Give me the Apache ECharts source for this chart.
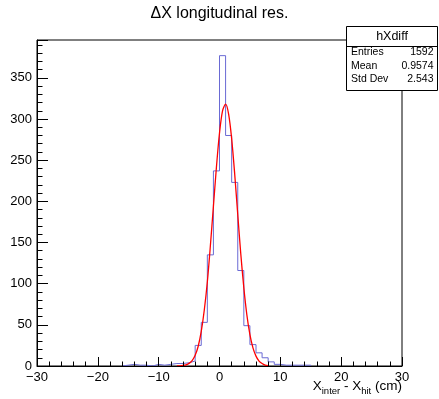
<!DOCTYPE html>
<html>
<head>
<meta charset="utf-8">
<script src="https://cdn.jsdelivr.net/npm/echarts@6/dist/echarts.min.js"></script>
<style>
html,body{margin:0;padding:0;background:#fff;}
#chart{width:439px;height:399px;}
</style>
</head>
<body>
<div id="chart"></div>
<script>
// Histogram: bins of width 1 starting at binLow
const binLow = -16;
const binWidth = 1;
const counts = [1, 2, 1, 1, 0, 2, 1, 2, 3, 3, 4, 6, 25, 53, 135, 237, 377, 280, 223, 116, 49, 26, 16, 10, 5, 2, 1, 1, 1, 1, 1];
// Gaussian fit curve
const fitX = [-7, -6.5, -6, -5.5, -5, -4.5, -4, -3.5, -3, -2.5, -2, -1.5, -1, -0.5, 0, 0.5, 1, 1.5, 2, 2.5, 3, 3.5, 4, 4.5, 5, 5.5, 6, 6.5, 7, 7.5, 8];
const fitY = [0.1, 0.2, 0.6, 1.4, 3.2, 6.6, 13, 24, 42, 68, 102, 146, 194, 242, 283, 310, 318, 306, 276, 233, 184, 136, 95, 62, 38, 22, 12, 6, 3, 1.2, 0.5];
const xTicks = [-30, -20, -10, 0, 10, 20, 30];
const yTicks = [0, 50, 100, 150, 200, 250, 300, 350];
const statsTitle = 'hXdiff';
const statsRows = [['Entries', '1592'], ['Mean', '0.9574'], ['Std Dev', '2.543']];

const histPts = [[binLow, 0]];
counts.forEach((c, i) => histPts.push([binLow + (i + 1) * binWidth, c]));
histPts.push([binLow + counts.length * binWidth, 0]);
const fitPts = fitX.map((x, i) => [x, fitY[i]]);

const FONT = '"Liberation Sans", Arial, Helvetica, sans-serif';
const chart = echarts.init(document.getElementById('chart'), null, {renderer: 'canvas'});

const statsGraphics = [
  {type: 'rect', z: 100, shape: {x: 346.5, y: 26.5, width: 91, height: 64}, style: {fill: '#fff', stroke: '#000', lineWidth: 1}},
  {type: 'line', z: 101, shape: {x1: 346.5, y1: 46.5, x2: 437.5, y2: 46.5}, style: {stroke: '#000', lineWidth: 1}},
  {type: 'text', z: 101, style: {x: 392, y: 36.5, text: statsTitle, align: 'center', verticalAlign: 'middle', font: '12.5px ' + FONT, fill: '#000'}}
];
statsRows.forEach((r, i) => {
  const y = 52.5 + i * 13.5;
  statsGraphics.push({type: 'text', z: 101, style: {x: 351, y: y, text: r[0], align: 'left', verticalAlign: 'middle', font: '10.5px ' + FONT, fill: '#000'}});
  statsGraphics.push({type: 'text', z: 101, style: {x: 433.5, y: y, text: r[1], align: 'right', verticalAlign: 'middle', font: '10.5px ' + FONT, fill: '#000'}});
});

chart.setOption({
  animation: false,
  backgroundColor: '#fff',
  grid: {left: 37, right: 37, top: 40, bottom: 33, show: true, borderColor: '#000', borderWidth: 1, backgroundColor: 'transparent'},
  xAxis: {
    type: 'value', min: xTicks[0], max: xTicks[xTicks.length - 1], interval: 10, z: 3,
    axisLine: {show: true, onZero: false, lineStyle: {color: '#000', width: 1}},
    axisTick: {show: true, inside: true, length: 9, lineStyle: {color: '#000'}},
    minorTick: {show: true, splitNumber: 5, length: 4.5, lineStyle: {color: '#000'}},
    splitLine: {show: false},
    axisLabel: {color: '#000', fontSize: 13, fontFamily: FONT, margin: 5,
      formatter: v => String(v).replace('-', '\u2212')}
  },
  yAxis: {
    type: 'value', min: 0, max: 396, interval: 50, z: 3,
    axisLine: {show: true, onZero: false, lineStyle: {color: '#000', width: 1}},
    axisTick: {show: true, inside: true, length: 11, lineStyle: {color: '#000'}},
    minorTick: {show: true, splitNumber: 5, length: 5.5, lineStyle: {color: '#000'}},
    splitLine: {show: false},
    axisLabel: {color: '#000', fontSize: 13, fontFamily: FONT, margin: 5, showMaxLabel: false,
      formatter: v => (yTicks.indexOf(v) >= 0 ? String(v) : '')}
  },
  series: [
    {type: 'line', data: histPts, step: 'start', showSymbol: false, symbol: 'none', z: 2,
      lineStyle: {color: '#6a6ad4', width: 1}},
    {type: 'line', data: fitPts, smooth: 0.3, showSymbol: false, symbol: 'none', z: 2,
      lineStyle: {color: '#ff0000', width: 1.3}}
  ],
  graphic: [
    {type: 'text', z: 100, style: {x: 219.5, y: 14, text: '\u0394X longitudinal res.', align: 'center', verticalAlign: 'middle', font: '16px ' + FONT, fill: '#000'}},
    {type: 'text', z: 100, style: {x: 402, y: 379, align: 'right', verticalAlign: 'top',
      text: '{n|X}{s|inter}{n| - X}{s|hit}{n| (cm)}',
      rich: {
        n: {fontSize: 13.5, fontFamily: FONT, lineHeight: 16, verticalAlign: 'top', fill: '#000'},
        s: {fontSize: 9.5, fontFamily: FONT, lineHeight: 10, padding: [7, 0, 0, 0], verticalAlign: 'top', fill: '#000'}
      }}}
  ].concat(statsGraphics)
});
</script>
</body>
</html>
